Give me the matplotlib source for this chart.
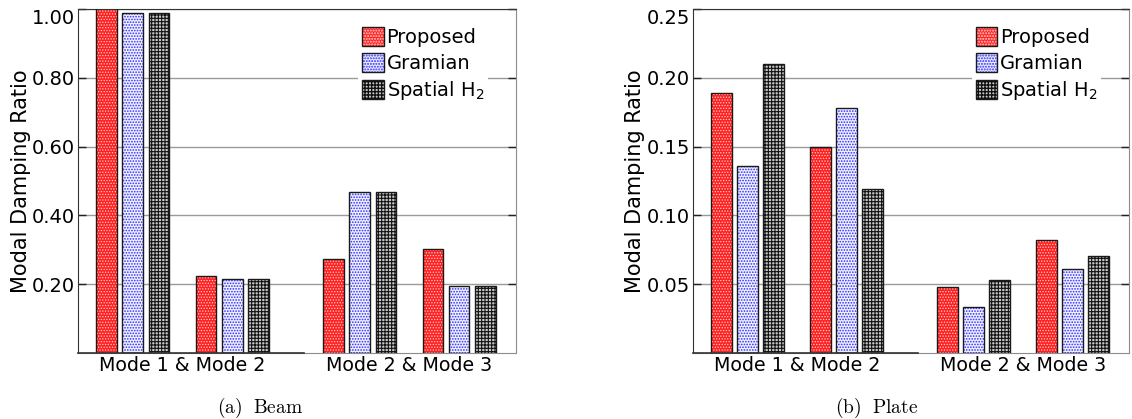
import numpy as np
import matplotlib
matplotlib.use("Agg")
import matplotlib.pyplot as plt
from matplotlib.patches import Patch
from matplotlib.transforms import ScaledTranslation

# --- data ------------------------------------------------------------------
methods = ["Proposed", "Gramian", "Spatial H$_2$"]
groups = ["Mode 1 & Mode 2", "Mode 2 & Mode 3"]

beam_proposed = [1.02, 0.223, 0.274, 0.302]
beam_gramian = [0.988, 0.215, 0.469, 0.194]
beam_spatial = [0.988, 0.215, 0.469, 0.194]

plate_proposed = [0.189, 0.1495, 0.0478, 0.0821]
plate_gramian = [0.136, 0.178, 0.0334, 0.0608]
plate_spatial = [0.210, 0.119, 0.0528, 0.0703]

beam_ticks = [0.20, 0.40, 0.60, 0.80, 1.00]
plate_ticks = [0.05, 0.10, 0.15, 0.20, 0.25]

# --- styling -----------------------------------------------------------------
styles = [
    dict(face="#ff2020", hatch="......", hcolor="#ffd0d0", hlw=0.6),
    dict(face="#f0f0ff", hatch="......", hcolor="#2a2aff", hlw=0.8),
    dict(face="#c8c8c8", hatch="+++++", hcolor="#111111", hlw=0.8),
]
plt.rcParams["font.size"] = 14
plt.rcParams["mathtext.fontset"] = "dejavusans"

cluster_x = np.array([0.0, 1.0, 2.28, 3.28])
offsets = [-0.262, 0.0, 0.262]
width = 0.206
dark = "#333333"
light = "#8c8c8c"


def draw_panel(ax, series, ticks, fmt, caption_x, caption):
    for vals, off, st in zip(series, offsets, styles):
        with plt.rc_context({"hatch.linewidth": st["hlw"]}):
            ax.bar(cluster_x + off, vals, width, color=st["face"], hatch=st["hatch"],
                   edgecolor=st["hcolor"], linewidth=0, zorder=2)
        ax.bar(cluster_x + off, vals, width, fill=False, edgecolor="#1a1a1a",
               linewidth=1.0, zorder=3)
    ax.set_ylim(0, ticks[-1])
    ax.set_xlim(cluster_x[0] - 0.55, cluster_x[-1] + 0.57)
    ax.set_yticks(ticks)
    ax.set_yticklabels([fmt.format(t) for t in ticks])
    top = ax.get_yticklabels()[-1]
    top.set_va("top")
    top.set_transform(top.get_transform() +
                      ScaledTranslation(0, -2 / 72, ax.figure.dpi_scale_trans))
    ax.set_xticks([cluster_x[:2].mean(), cluster_x[2:].mean()])
    ax.set_xticklabels(groups, fontsize=13.7)
    ax.tick_params(axis="x", length=0, pad=2)
    ax.tick_params(axis="y", direction="in", length=6, width=1, color="#222222",
                   right=True, pad=2)
    ax.yaxis.grid(True, color="#9a9a9a", linewidth=1.0, zorder=0)
    ax.set_axisbelow(True)
    ax.set_ylabel("Modal Damping Ratio", fontsize=15, labelpad=1)
    ax.spines["left"].set_color(dark)
    ax.spines["top"].set_color(dark)
    ax.spines["right"].set_color(light)
    ax.spines["bottom"].set_color(light)
    ax.axhline(0, xmin=0, xmax=0.515, color=dark, linewidth=1.2, zorder=4, clip_on=False)

    handles = []
    for st in styles:
        with plt.rc_context({"hatch.linewidth": st["hlw"]}):
            h1 = Patch(facecolor=st["face"], hatch=st["hatch"], edgecolor=st["hcolor"],
                       linewidth=0)
        h2 = Patch(fill=False, edgecolor="#1a1a1a", linewidth=1.0)
        handles.append((h1, h2))
    leg = ax.legend(handles, methods, loc="upper right", bbox_to_anchor=(0.936, 0.958),
                    borderaxespad=0, borderpad=0.2, frameon=True, framealpha=1,
                    edgecolor="none", fancybox=False, handlelength=1.1, handleheight=1.1,
                    handletextpad=0.15, labelspacing=0.3, fontsize=14)
    leg.set_zorder(5)
    ax.figure.text(caption_x, 0.026, caption, ha="center", va="center", fontsize=14,
                   math_fontfamily="cm")


fig = plt.figure(figsize=(11.32, 4.19), dpi=100)
ax1 = fig.add_axes([0.0689, 0.1575, 0.3869, 0.821])
ax2 = fig.add_axes([0.6122, 0.1575, 0.3852, 0.821])

draw_panel(ax1, [beam_proposed, beam_gramian, beam_spatial], beam_ticks, "{:.2f}",
           0.2297, r"$\mathrm{(a)\ \ Beam}$")
draw_panel(ax2, [plate_proposed, plate_gramian, plate_spatial], plate_ticks, "{:.2f}",
           0.774, r"$\mathrm{(b)\ \ Plate}$")

fig.savefig("out.png", dpi=100)
plt.close(fig)
